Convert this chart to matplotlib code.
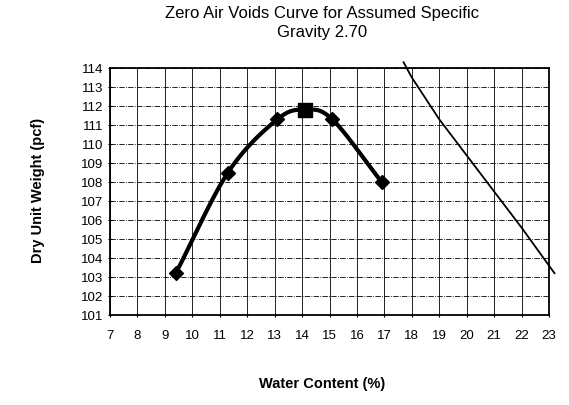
import numpy as np
import matplotlib.pyplot as plt

plt.rcParams['font.family'] = ['Liberation Sans', 'DejaVu Sans']

# compaction test points
water = [9.4, 11.3, 13.1, 14.1, 15.1, 16.9]
dry_wt = [103.2, 108.5, 111.3, 111.8, 111.3, 108.0]
peak_idx = 3

# zero air voids line
zav_w = [17.7, 18, 19, 20, 21, 22, 23, 23.2]
zav_y = [114.3, 113.5, 111.3, 109.4, 107.5, 105.6, 103.6, 103.2]


def catmull_rom(x, y, n=30):
    # Excel-style smoothed line through the points
    x = np.asarray(x, float)
    y = np.asarray(y, float)
    px = np.concatenate([[2 * x[0] - x[1]], x, [2 * x[-1] - x[-2]]])
    py = np.concatenate([[2 * y[0] - y[1]], y, [2 * y[-1] - y[-2]]])
    xs, ys = [], []
    t = np.linspace(0, 1, n)
    for i in range(1, len(px) - 2):
        for p, out in ((px, xs), (py, ys)):
            p0, p1, p2, p3 = p[i - 1], p[i], p[i + 1], p[i + 2]
            out.extend(0.5 * (2 * p1 + (-p0 + p2) * t
                              + (2 * p0 - 5 * p1 + 4 * p2 - p3) * t ** 2
                              + (-p0 + 3 * p1 - 3 * p2 + p3) * t ** 3))
    return xs, ys


fig = plt.figure(figsize=(5.69, 4.05), dpi=100)
ax = fig.add_axes([110 / 569, 1 - 315 / 405, 439 / 569, 247 / 405])

sx, sy = catmull_rom(water, dry_wt)
ax.plot(sx, sy, color='black', lw=3, zorder=3)
pts = [i for i in range(len(water)) if i != peak_idx]
ax.scatter([water[i] for i in pts], [dry_wt[i] for i in pts],
           marker='D', s=50, color='black', zorder=4)
ax.scatter([water[peak_idx]], [dry_wt[peak_idx]], marker='s', s=110,
           color='black', zorder=4)

ax.plot(zav_w, zav_y, color='black', lw=1.3, clip_on=False, zorder=3)

ax.set_xlim(7, 23)
ax.set_ylim(101, 114)
ax.set_xticks(range(7, 24))
ax.set_yticks(range(101, 115))
ax.grid(axis='x', color='black', lw=0.6)
ax.grid(axis='y', color='black', lw=0.6, ls='-.')
ax.tick_params(labelsize=9.5, length=3, direction='inout')
ax.tick_params(axis='x', pad=9)
for s in ax.spines.values():
    s.set_linewidth(1.3)

fig.suptitle('Zero Air Voids Curve for Assumed Specific\nGravity 2.70',
             x=322 / 569, y=0.985, fontsize=12, linespacing=1.35)
fig.text(322 / 569, 1 - 384 / 405, 'Water Content (%)', ha='center',
         va='center', fontsize=10.5, fontweight='bold')
fig.text(38 / 569, 1 - 190 / 405, 'Dry Unit Weight (pcf)', ha='center',
         va='center', rotation=90, fontsize=10.5, fontweight='bold')

fig.savefig('out.png', dpi=100)
